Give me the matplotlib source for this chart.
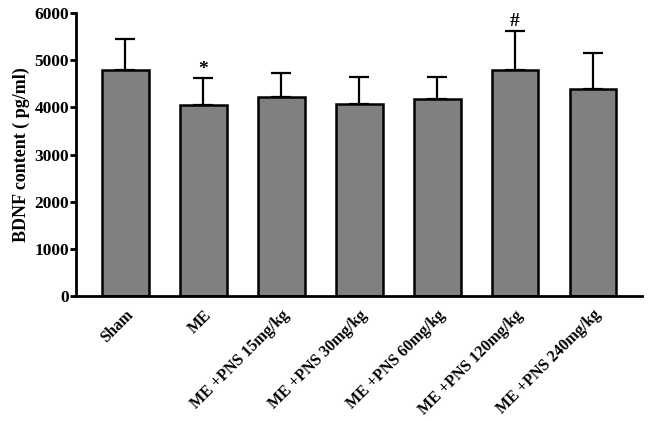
import matplotlib
matplotlib.use("Agg")
import matplotlib.pyplot as plt

categories = ["Sham", "ME", "ME +PNS 15mg/kg", "ME +PNS 30mg/kg", "ME +PNS 60mg/kg",
              "ME +PNS 120mg/kg", "ME +PNS 240mg/kg"]
means = [4800, 4050, 4225, 4080, 4180, 4800, 4380]
sds = [650, 565, 510, 555, 455, 820, 775]
marks = ["", "*", "", "", "", "#", ""]
yticks = [0, 1000, 2000, 3000, 4000, 5000, 6000]

plt.rcParams['font.family'] = ['Liberation Serif', 'DejaVu Serif']
plt.rcParams['font.weight'] = 'bold'

fig = plt.figure(figsize=(6.5, 4.21), dpi=100)
ax = fig.add_axes([0.117, 0.297, 0.871, 0.672])
x = list(range(len(categories)))
ax.bar(x, means, width=0.6, color="#808080", edgecolor="black", linewidth=1.8, zorder=2)
ax.errorbar(x, means, yerr=[[0]*len(sds), sds], fmt="none", ecolor="black",
            elinewidth=1.6, capsize=7, capthick=1.6, zorder=1)
for xi, m, s, t in zip(x, means, sds, marks):
    if t:
        ax.text(xi, m + s + 10, t, ha="center", va="bottom", fontsize=14, fontweight="bold")

ax.set_xlim(-0.63, 6.63)
ax.set_ylim(0, 6000)
ax.set_yticks(yticks)
ax.set_yticklabels([str(v) for v in yticks], fontsize=12.5, fontweight="bold")
ax.set_xticks(x)
ax.set_xticklabels(categories, rotation=45, ha="right", rotation_mode="anchor",
                   fontsize=11.5, fontweight="bold")
ax.tick_params(axis="x", length=0, pad=8)
ax.tick_params(axis="y", length=4, width=2, pad=1)
for s in ["top", "right"]:
    ax.spines[s].set_visible(False)
ax.spines["left"].set_linewidth(2)
ax.spines["bottom"].set_linewidth(2)
ax.set_ylabel("BDNF content ( pg/ml)", fontsize=13, fontweight="bold", labelpad=3)

fig.savefig("out.png", dpi=100)
